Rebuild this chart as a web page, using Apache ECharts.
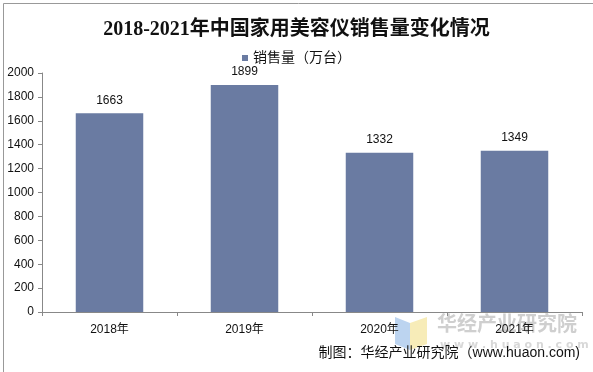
<!DOCTYPE html>
<html><head><meta charset="utf-8">
<script src="https://cdn.jsdelivr.net/npm/echarts@6/dist/echarts.min.js"></script>
<style>html,body{margin:0;padding:0;background:#fff}#c{width:593px;height:372px}</style>
</head><body><div id="c"></div>
<script>
var categories = ['2018年', '2019年', '2020年', '2021年'];
var sales = [1663, 1899, 1332, 1349];
var seriesName = '销售量（万台）';
var titleText = '2018-2021年中国家用美容仪销售量变化情况';
var sourceText = '制图：华经产业研究院（www.huaon.com)';

var chart = echarts.init(document.getElementById('c'), null, {renderer: 'canvas'});
chart.setOption({
  animation: false,
  backgroundColor: '#fff',
  title: {
    text: titleText, left: 'center', top: 15,
    textStyle: {fontFamily: 'Liberation Serif, "Noto Sans CJK SC"', fontSize: 20, fontWeight: 'bold', color: '#111'}
  },
  legend: {
    data: [seriesName], left: 'center', top: 46, itemWidth: 6, itemHeight: 6, itemGap: 3,
    icon: 'rect',
    textStyle: {fontFamily: 'Arial, "Noto Sans CJK SC"', fontSize: 14, color: '#111'}
  },
  grid: {left: 42, right: 11, top: 73, bottom: 60},
  xAxis: {
    type: 'category', data: categories,
    axisLine: {lineStyle: {color: '#888'}},
    axisTick: {show: true, length: 4, lineStyle: {color: '#888'}},
    axisLabel: {fontFamily: 'Arial, "Noto Sans CJK SC"', fontSize: 12, color: '#111', margin: 12}
  },
  yAxis: {
    type: 'value', min: 0, max: 2000, interval: 200,
    axisLine: {show: true, lineStyle: {color: '#888'}},
    axisTick: {show: true, length: 4, lineStyle: {color: '#888'}},
    splitLine: {show: false},
    axisLabel: {fontFamily: 'Arial', fontSize: 12, color: '#111', margin: 8, formatter: function (v) { return String(v); }}
  },
  series: [{
    name: seriesName, type: 'bar', data: sales, barWidth: '50%',
    itemStyle: {color: '#6A7BA2'},
    label: {show: true, position: 'top', distance: 7, fontFamily: 'Arial', fontSize: 12, color: '#111'}
  }],
  graphic: [
    {type: 'rect', left: 1, top: 1, z: 100, shape: {width: 590, height: 369}, style: {fill: 'none', stroke: '#999', lineWidth: 1}},
    {type: 'polygon', z: 0, shape: {points: [[395,317],[410,323],[410,350],[395,344]]}, style: {fill: '#bcd4f0'}},
    {type: 'polygon', z: 0, shape: {points: [[410,323],[427,317],[427,344],[410,350]]}, style: {fill: '#f7ecb8'}},
    {type: 'text', left: 437, top: 313, z: 0, style: {text: '华经产业研究院', font: 'bold 20px "Noto Sans CJK SC"', fill: '#cfcfcf'}},
    {type: 'text', left: 440, top: 340, z: 0, style: {text: 'w w w . h u a o n . c o m', font: 'bold 11px "DejaVu Sans"', fill: '#d8d8d8'}},
    {type: 'text', right: 13, top: 346, z: 10, style: {text: sourceText, font: '14px Arial, "Noto Sans CJK SC"', fill: '#111'}}
  ]
});
</script></body></html>
